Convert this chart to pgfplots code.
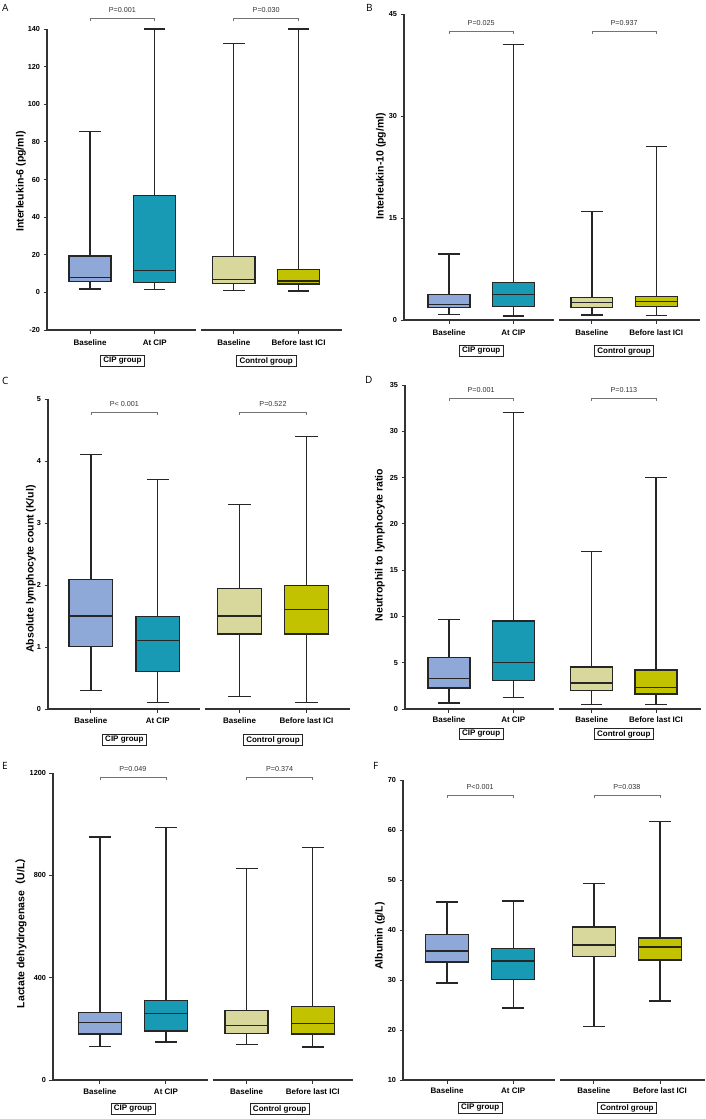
\documentclass[border=0pt]{standalone}
\usepackage{pgfplots}
\pgfplotsset{compat=1.18}
\usepgfplotslibrary{statistics}
\usepackage{fontspec}
\setmainfont{Liberation Sans}
\newfontfamily\cjk{Noto Sans CJK SC}
\newfontfamily\lett{Open Sans}

\definecolor{cblue}{HTML}{8EA9D8}
\definecolor{cteal}{HTML}{1899B4}
\definecolor{ckhaki}{HTML}{D8D79C}
\definecolor{cyell}{HTML}{C3C200}
\definecolor{axgray}{HTML}{333333}

\pgfplotsset{
  gp/.style={
    scale only axis, anchor=north west, clip=false,
    boxplot/draw direction=y,
    axis x line*=bottom, axis y line*=left, separate axis lines,
    x axis line style={draw=none},
    y axis line style={line width=1.3pt, draw=axgray, -},
    tick align=outside, major tick length=3.5pt,
    tick style={line width=1pt, axgray},
    minor tick num=0, scaled y ticks=false,
    xtick={1,2,3.22,4.22},
    xticklabels={Baseline, At CIP, Baseline, Before last ICI},
    x tick label style={font=\bfseries\fontsize{8}{9}\selectfont},
    y tick label style={font=\bfseries\fontsize{7.3}{8}\selectfont},
    /pgf/number format/assume math mode=true,
    /pgf/number format/1000 sep={},
  },
  ylab/.style 2 args={every axis y label/.style={at={([xshift=#1,yshift=#2]axis description cs:0,0.5)},
    rotate=90, anchor=center, font=\bfseries\fontsize{10.5}{12}\selectfont}},
}
\tikzset{
  axln/.style={line width=1.3pt, draw=axgray},
  brk/.style={line width=0.7pt, draw=black!55},
  ptext/.style={anchor=south, inner sep=0pt, yshift=5pt, font=\fontsize{7.2}{8}\selectfont, text=black!80},
  grp/.style={draw=black!85, line width=0.6pt, inner xsep=3pt, inner ysep=1.6pt, font=\bfseries\fontsize{8}{9}\selectfont},
  plet/.style={anchor=north west, inner sep=0pt, font=\lett\fontsize{10}{12}\selectfont},
}

% draw position, colour, lower whisker, Q1, median, Q3, upper whisker
\newcommand\bp[7]{\addplot[draw=black!85, line width=1.3pt, fill=#2,
  boxplot prepared={draw position=#1, lower whisker=#3, lower quartile=#4,
  median=#5, upper quartile=#6, upper whisker=#7, box extend=0.65, whisker extend=0.33}]
  coordinates {};}
% x from, x to, mid, y, text
\newcommand\brk[5]{\draw[brk] (axis cs:#1,#4) -- (axis cs:#2,#4);
  \draw[brk] (axis cs:#1,#4) -- ++(0pt,-3pt);
  \draw[brk] (axis cs:#2,#4) -- ++(0pt,-3pt);
  \node[ptext] at (axis cs:#3,#4) {#5};}
% broken x axis: xmin, xmax, ymin
\newcommand\xline[3]{\draw[axln] (axis cs:#1,#3) -- (axis cs:2.63,#3);
  \draw[axln] (axis cs:2.71,#3) -- (axis cs:#2,#3);}
% group boxes: ymin, offset
\newcommand\groups[2]{\node[grp, yshift=-#2] at (axis cs:1.5,#1) {CIP group};
  \node[grp, yshift=-#2] at (axis cs:3.72,#1) {Control group};}

\begin{document}
\begin{tikzpicture}
\useasboundingbox (0,0) rectangle (706pt,-1119pt);

% A
\begin{axis}[gp, at={(47pt,-29pt)}, width=295pt, height=301pt,
  xmin=0.336, xmax=4.89, ymin=-20, ymax=140, ytick={-20,0,...,140},
  ylab={-26pt}{-2pt}, ylabel={Interleukin-6 (pg/ml)},
  x tick label style={yshift=-3pt}]
\bp{1}{cblue}{1.8}{5.7}{8.0}{19.3}{85.4}
\bp{2}{cteal}{1.4}{5.4}{11.7}{51.6}{140}
\bp{3.22}{ckhaki}{1.1}{4.6}{6.9}{19.0}{132.4}
\bp{4.22}{cyell}{0.7}{4.4}{6.0}{12.2}{140}
\xline{0.336}{4.89}{-20}
\brk{1}{2}{1.5}{145.8}{P=0.001}
\brk{3.22}{4.22}{3.72}{145.8}{P=0.030}
\groups{-20}{31pt}
\end{axis}

% B
\begin{axis}[gp, at={(404pt,-14pt)}, width=296pt, height=306pt,
  xmin=0.30, xmax=4.90, ymin=0, ymax=45, ytick={0,15,30,45},
  ylab={-23pt}{1pt}, ylabel={Interleukin-10 (pg/ml)},
  x tick label style={yshift=-3pt}]
\bp{1}{cblue}{0.8}{1.8}{2.3}{3.7}{9.7}
\bp{2}{cteal}{0.6}{2.0}{3.7}{5.5}{40.5}
\bp{3.22}{ckhaki}{0.75}{1.8}{2.55}{3.3}{16.0}
\bp{4.22}{cyell}{0.7}{2.0}{2.7}{3.5}{25.5}
\xline{0.30}{4.90}{0}
\brk{1}{2}{1.5}{42.5}{P=0.025}
\brk{3.22}{4.22}{3.72}{42.5}{P=0.937}
\groups{0}{31pt}
\end{axis}

% C
\begin{axis}[gp, at={(48pt,-399pt)}, width=302pt, height=310pt,
  xmin=0.36, xmax=4.87, ymin=0, ymax=5, ytick={0,...,5},
  ylab={-17pt}{-15pt}, ylabel={Absolute lymphocyte count (K/ul)},
  x tick label style={yshift=-2pt}]
\bp{1}{cblue}{0.30}{1.01}{1.50}{2.09}{4.10}
\bp{2}{cteal}{0.10}{0.61}{1.10}{1.49}{3.70}
\bp{3.22}{ckhaki}{0.20}{1.21}{1.50}{1.94}{3.30}
\bp{4.22}{cyell}{0.10}{1.21}{1.60}{1.99}{4.40}
\xline{0.36}{4.87}{0}
\brk{1}{2}{1.5}{4.79}{P< 0.001}
\brk{3.22}{4.22}{3.72}{4.79}{P=0.522}
\groups{0}{31pt}
\end{axis}

% D
\begin{axis}[gp, at={(405pt,-385pt)}, width=296pt, height=324pt,
  xmin=0.316, xmax=4.92, ymin=0, ymax=35, ytick={0,5,...,35},
  ylab={-25pt}{2pt}, ylabel={Neutrophil to lymphocyte ratio},
  x tick label style={yshift=-1pt}]
\bp{1}{cblue}{0.65}{2.27}{3.3}{5.6}{9.7}
\bp{2}{cteal}{1.22}{3.06}{5.0}{9.5}{32.0}
\bp{3.22}{ckhaki}{0.5}{1.98}{2.8}{4.54}{17.0}
\bp{4.22}{cyell}{0.5}{1.62}{2.3}{4.2}{25.0}
\xline{0.316}{4.92}{0}
\brk{1}{2}{1.5}{33.6}{P=0.001}
\brk{3.22}{4.22}{3.72}{33.6}{P=0.113}
\groups{0}{25pt}
\end{axis}

% E
\begin{axis}[gp, at={(53pt,-773pt)}, width=300pt, height=307pt,
  xmin=0.29, xmax=4.83, ymin=0, ymax=1200, ytick={0,400,800,1200},
  ylab={-32pt}{-4pt}, ylabel={Lactate dehydrogenase{\cjk （}U/L{\cjk ）}},
  x tick label style={yshift=-2pt}]
\bp{1}{cblue}{132}{180}{225}{265}{950}
\bp{2}{cteal}{149}{192}{259}{311}{987}
\bp{3.22}{ckhaki}{138}{182}{212}{272}{827}
\bp{4.22}{cyell}{129}{180}{222}{287}{910}
\xline{0.29}{4.83}{0}
\brk{1}{2}{1.5}{1184}{P=0.049}
\brk{3.22}{4.22}{3.72}{1184}{P=0.374}
\groups{0}{29pt}
\end{axis}

% F
\begin{axis}[gp, at={(403pt,-780pt)}, width=302pt, height=300pt,
  xmin=0.334, xmax=4.90, ymin=10, ymax=70, ytick={10,20,...,70},
  ylab={-23pt}{-6pt}, ylabel={Albumin (g/L)},
  x tick label style={yshift=-1pt}]
\bp{1}{cblue}{29.4}{33.6}{35.8}{39.1}{45.6}
\bp{2}{cteal}{24.4}{30.1}{33.8}{36.3}{45.8}
\bp{3.22}{ckhaki}{20.7}{34.7}{37.0}{40.6}{49.3}
\bp{4.22}{cyell}{25.8}{34.0}{36.6}{38.4}{61.7}
\xline{0.334}{4.90}{10}
\brk{1}{2}{1.5}{67}{P<0.001}
\brk{3.22}{4.22}{3.72}{67}{P=0.038}
\groups{10}{28pt}
\end{axis}

\node[plet] at (2pt,-4pt) {A};
\node[plet] at (366pt,-4pt) {B};
\node[plet] at (2pt,-377pt) {C};
\node[plet] at (365pt,-376pt) {D};
\node[plet] at (2pt,-762pt) {E};
\node[plet] at (373pt,-762pt) {F};
\end{tikzpicture}
\end{document}
